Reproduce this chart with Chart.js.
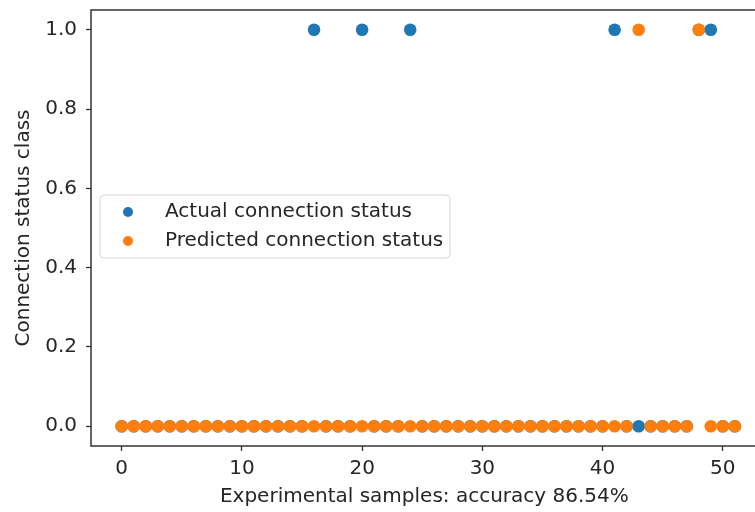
<!DOCTYPE html>
<html><head><meta charset="utf-8">
<script src="https://cdn.jsdelivr.net/npm/chart.js@4/dist/chart.umd.min.js"></script>
<style>html,body{margin:0;padding:0;background:#fff;overflow:hidden;width:755px;height:512px}
#wrap{width:764px;height:512px}</style>
</head><body><div id="wrap"><canvas id="c" width="764" height="512"></canvas></div>
<script>
const samples = Array.from({length: 52}, (_, i) => i);
const actualStatus = [0,0,0,0,0,0,0,0,0,0, 0,0,0,0,0,0,1,0,0,0, 1,0,0,0,1,0,0,0,0,0, 0,0,0,0,0,0,0,0,0,0, 0,1,0,0,0,0,0,0,1,1, 0,0];
const predictedStatus = [0,0,0,0,0,0,0,0,0,0, 0,0,0,0,0,0,0,0,0,0, 0,0,0,0,0,0,0,0,0,0, 0,0,0,0,0,0,0,0,0,0, 0,0,0,1,0,0,0,0,1,0, 0,0];
const xTicks = [0,10,20,30,40,50];
const yTicks = [0,0.2,0.4,0.6,0.8,1.0];
const seriesLabels = ['Actual connection status','Predicted connection status'];
const blue = '#1f77b4', orange = '#ff7f0e';
const FONT = 'DejaVu Sans';
const FS = 20;

const frame = {
  id:'frame',
  afterDraw(chart){
    const {ctx, chartArea:a} = chart;
    ctx.save();
    ctx.strokeStyle = '#333'; ctx.lineWidth = 1.5;
    ctx.strokeRect(a.left, a.top, a.right-a.left, a.bottom-a.top);
    // legend
    const lx=100, ly=195, lw=350, lh=63, r=4;
    ctx.beginPath();
    ctx.moveTo(lx+r,ly); ctx.lineTo(lx+lw-r,ly); ctx.quadraticCurveTo(lx+lw,ly,lx+lw,ly+r);
    ctx.lineTo(lx+lw,ly+lh-r); ctx.quadraticCurveTo(lx+lw,ly+lh,lx+lw-r,ly+lh);
    ctx.lineTo(lx+r,ly+lh); ctx.quadraticCurveTo(lx,ly+lh,lx,ly+lh-r);
    ctx.lineTo(lx,ly+r); ctx.quadraticCurveTo(lx,ly,lx+r,ly); ctx.closePath();
    ctx.fillStyle='rgba(255,255,255,0.8)'; ctx.fill();
    ctx.strokeStyle='#d6d6d6'; ctx.lineWidth=1; ctx.stroke();
    chart.data.datasets.forEach((ds,i)=>{
      const y = 212 + i*29;
      ctx.beginPath(); ctx.arc(128,y,5,0,Math.PI*2); ctx.fillStyle=ds.backgroundColor; ctx.fill();
      ctx.fillStyle='#262626'; ctx.font=FS+'px "'+FONT+'"'; ctx.textBaseline='middle'; ctx.textAlign='left';
      ctx.fillText(ds.label,165,y);
    });
    ctx.restore();
  }
};

new Chart(document.getElementById('c'), {
  type:'scatter',
  data:{datasets:[
    {label:seriesLabels[0], data:samples.map((x,i)=>({x, y:actualStatus[i]})), backgroundColor:blue, borderWidth:0, pointRadius:6.3, order:1},
    {label:seriesLabels[1], data:samples.map((x,i)=>({x, y:predictedStatus[i]})), backgroundColor:orange, borderWidth:0, pointRadius:6.3, order:0}
  ]},
  options:{
    responsive:false, animation:false, devicePixelRatio:1,
    layout:{padding:{top:10,left:0,right:0,bottom:0}},
    plugins:{legend:{display:false}, tooltip:{enabled:false}},
    scales:{
      x:{type:'linear', min:-2.55, max:52.9,
        afterBuildTicks(s){ s.ticks = xTicks.map(v=>({value:v})); },
        afterFit(s){ s.height = 66; s.paddingLeft = 0; s.paddingRight = 0; },
        grid:{display:true, drawOnChartArea:false, drawTicks:true, tickLength:5, color:'#333', tickWidth:1.3},
        border:{display:false},
        ticks:{color:'#262626', font:{family:FONT,size:FS}, padding:6, maxRotation:0, callback:v=>String(v)},
        title:{display:true, text:'Experimental samples: accuracy 86.54%', color:'#262626', font:{family:FONT,size:FS}, padding:{top:0,bottom:3}}
      },
      y:{type:'linear', min:-0.05, max:1.05,
        afterBuildTicks(s){ s.ticks = yTicks.map(v=>({value:v})); },
        afterFit(s){ s.width = 91; s.paddingTop = 0; s.paddingBottom = 0; },
        grid:{display:true, drawOnChartArea:false, drawTicks:true, tickLength:5, color:'#333', tickWidth:1.3},
        border:{display:false},
        ticks:{color:'#262626', font:{family:FONT,size:FS}, padding:9, callback:v=>Number(v).toFixed(1)},
        title:{display:true, text:'Connection status class', color:'#262626', font:{family:FONT,size:FS}, padding:{top:12,bottom:0}}
      }
    }
  },
  plugins:[frame]
});
</script></body></html>
